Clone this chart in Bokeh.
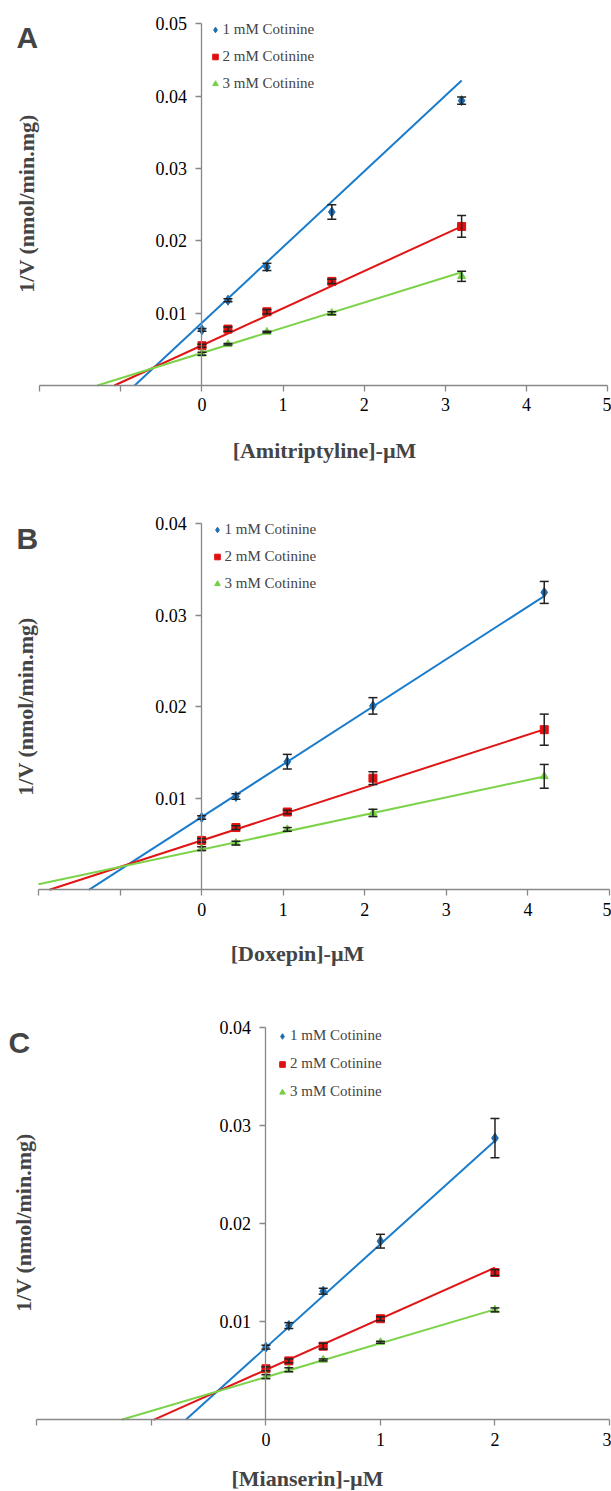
import numpy as np
from bokeh.plotting import figure
from bokeh.models import (ColumnDataSource, Whisker, TeeHead, LinearAxis, FixedTicker,
                          PrintfTickFormatter, Label, Legend, LegendItem, Range1d)
from bokeh.layouts import column
from bokeh.embed import file_html
from bokeh.resources import INLINE

# ---------------- data ----------------
series_labels = ["1 mM Cotinine", "2 mM Cotinine", "3 mM Cotinine"]

# Panel A: Amitriptyline
A_x = [0, 0.32, 0.8, 1.6, 3.2]
A_y1 = [0.0077, 0.0118, 0.0164, 0.0240, 0.0394]
A_e1 = [0.0002, 0.0002, 0.0005, 0.0010, 0.0005]
A_y2 = [0.0055, 0.0078, 0.0102, 0.0144, 0.0220]
A_e2 = [0.0002, 0.0003, 0.0003, 0.0003, 0.0015]
A_y3 = [0.0044, 0.0057, 0.0074, 0.0100, 0.0151]
A_e3 = [0.0002, 0.0001, 0.0001, 0.0002, 0.0007]
A_slope = [0.01047, 0.00514, 0.00349]
A_icept = [0.00869, 0.00555, 0.00450]

# Panel B: Doxepin
B_x = [0, 0.42, 1.05, 2.1, 4.2]
B_y1 = [0.0079, 0.0102, 0.0140, 0.0201, 0.0325]
B_e1 = [0.0002, 0.0003, 0.0008, 0.0009, 0.0012]
B_y2 = [0.0054, 0.0068, 0.0085, 0.0122, 0.0175]
B_e2 = [0.0002, 0.0002, 0.0002, 0.0007, 0.0017]
B_y3 = [0.0045, 0.0051, 0.0066, 0.0084, 0.0124]
B_e3 = [0.0002, 0.0002, 0.0002, 0.0004, 0.0013]
B_slope = [0.00575, 0.00289, 0.00190]
B_icept = [0.00795, 0.00539, 0.00440]

# Panel C: Mianserin
C_x = [0, 0.2, 0.5, 1, 2]
C_y1 = [0.0074, 0.0096, 0.0131, 0.0182, 0.0287]
C_e1 = [0.0002, 0.0003, 0.0003, 0.0007, 0.0020]
C_y2 = [0.0052, 0.0060, 0.0075, 0.0103, 0.0150]
C_e2 = [0.0002, 0.0002, 0.0003, 0.0002, 0.0003]
C_y3 = [0.0044, 0.0051, 0.0061, 0.0079, 0.0112]
C_e3 = [0.0002, 0.0002, 0.0001, 0.0001, 0.0002]
C_slope = [0.01053, 0.00520, 0.00345]
C_icept = [0.00737, 0.00510, 0.00435]

x_ticks_A = [-2, -1, 0, 1, 2, 3, 4, 5]
y_ticks_A = [0.01, 0.02, 0.03, 0.04, 0.05]
x_ticks_B = [-2, -1, 0, 1, 2, 3, 4, 5]
y_ticks_B = [0.01, 0.02, 0.03, 0.04]
x_ticks_C = [-2, -1, 0, 1, 2, 3]
y_ticks_C = [0.01, 0.02, 0.03, 0.04]

# ---------------- style ----------------
marker_colors = ["#1F6DB0", "#E01010", "#76CF45"]
line_colors = ["#1A7CCB", "#E01515", "#7CD34A"]
markers = ["diamond", "square", "triangle"]
marker_sizes = [10, 8, 8]
SERIF = "Liberation Serif"
AXIS_COLOR = "#888888"
W = 611


def panel(letter, xs, ys, es, slopes, icepts, xticks, yticks, xlabel,
          h, xr, yr, letter_pos, ytitle_pos, xtitle_pos, leg_pos, leg_h):
    p = figure(width=W, height=h, output_backend="svg", toolbar_location=None,
               x_range=Range1d(*xr), y_range=Range1d(*yr),
               x_axis_location=None, y_axis_location=None,
               min_border=0, min_border_left=0, min_border_right=0,
               min_border_top=0, min_border_bottom=0)
    p.grid.visible = False
    p.outline_line_color = None

    xa = LinearAxis(fixed_location=0, ticker=FixedTicker(ticks=xticks),
                    major_label_overrides={t: "" for t in xticks if t < 0},
                    bounds=(xticks[0], xticks[-1]))
    ya = LinearAxis(fixed_location=0, ticker=FixedTicker(ticks=yticks),
                    formatter=PrintfTickFormatter(format="%.2f"),
                    bounds=(0, yticks[-1]))
    for ax in (xa, ya):
        ax.axis_line_color = AXIS_COLOR
        ax.axis_line_width = 1.3
        ax.major_tick_line_color = AXIS_COLOR
        ax.major_tick_line_width = 1.3
        ax.major_tick_in = 0
        ax.major_tick_out = 6
        ax.minor_tick_line_color = None
        ax.major_label_text_font = SERIF
        ax.major_label_text_font_size = "18px"
        ax.major_label_text_color = "black"
    xa.major_label_standoff = 7
    ya.major_label_standoff = 9
    p.add_layout(xa, "below")
    p.add_layout(ya, "left")

    items = []
    for i in range(3):
        m, b = slopes[i], icepts[i]
        x0 = max(xticks[0], -b / m)
        x1 = xs[-1]
        p.line([x0, x1], [m * x0 + b, m * x1 + b], line_color=line_colors[i], line_width=2)
    for i in range(3):
        y = np.array(ys[i]); e = np.array(es[i])
        src = ColumnDataSource(dict(x=xs, y=y, lo=y - e, hi=y + e))
        wk = Whisker(base="x", upper="hi", lower="lo", source=src, dimension="height",
                     line_color="#222222", line_width=1.5, level="glyph",
                     upper_head=TeeHead(size=9, line_color="#222222", line_width=1.5),
                     lower_head=TeeHead(size=9, line_color="#222222", line_width=1.5))
        p.add_layout(wk)
        r = p.scatter("x", "y", source=src, marker=markers[i], size=marker_sizes[i],
                      fill_color=marker_colors[i], line_color=marker_colors[i])
        items.append(LegendItem(label=series_labels[i], renderers=[r]))

    leg = Legend(items=items, location=leg_pos, orientation="vertical",
                 padding=0, margin=0, spacing=0, glyph_width=14, glyph_height=leg_h,
                 label_height=leg_h, label_standoff=1,
                 label_text_font=SERIF, label_text_font_size="15px",
                 border_line_color=None, background_fill_alpha=0)
    p.add_layout(leg)

    p.add_layout(Label(x=letter_pos[0], y=letter_pos[1], x_units="screen", y_units="screen",
                       text=letter, text_font="Liberation Sans", text_font_style="bold",
                       text_font_size="30px", text_baseline="alphabetic", text_align="left"))
    p.add_layout(Label(x=ytitle_pos[0], y=ytitle_pos[1], x_units="screen", y_units="screen",
                       text="1/V (nmol/min.mg)", angle=np.pi / 2, text_font=SERIF,
                       text_font_style="bold", text_font_size="22px",
                       text_baseline="middle", text_align="center"))
    p.add_layout(Label(x=xtitle_pos[0], y=xtitle_pos[1], x_units="screen", y_units="screen",
                       text=xlabel, text_font=SERIF, text_font_style="bold",
                       text_font_size="22px", text_baseline="middle", text_align="center"))
    return p


pA = panel("A", A_x, [A_y1, A_y2, A_y3], [A_e1, A_e2, A_e3], A_slope, A_icept,
           x_ticks_A, y_ticks_A, "[Amitriptyline]-\u00b5M",
           480, (-2.4831, 5.0470), (-0.013140, 0.053250),
           (16, 443), (26, 277), (324, 30), (207.6, 383.5), 27)
pB = panel("B", B_x, [B_y1, B_y2, B_y3], [B_e1, B_e2, B_e3], B_slope, B_icept,
           x_ticks_B, y_ticks_B, "[Doxepin]-\u00b5M",
           490, (-2.4659, 5.0246), (-0.00882, 0.044732),
           (16, 432), (25, 264), (297, 17), (209.6, 373.2), 27)
pC = panel("C", C_x, [C_y1, C_y2, C_y3], [C_e1, C_e2, C_e3], C_slope, C_icept,
           x_ticks_C, y_ticks_C, "[Mianserin]-\u00b5M",
           520, (-2.3178, 3.0175), (-0.007203, 0.045777),
           (8, 448), (23, 268), (307, 12), (275, 384.3), 28)

layout = column(pA, pB, pC, spacing=0)
open("out.html", "w").write(file_html(layout, INLINE))
